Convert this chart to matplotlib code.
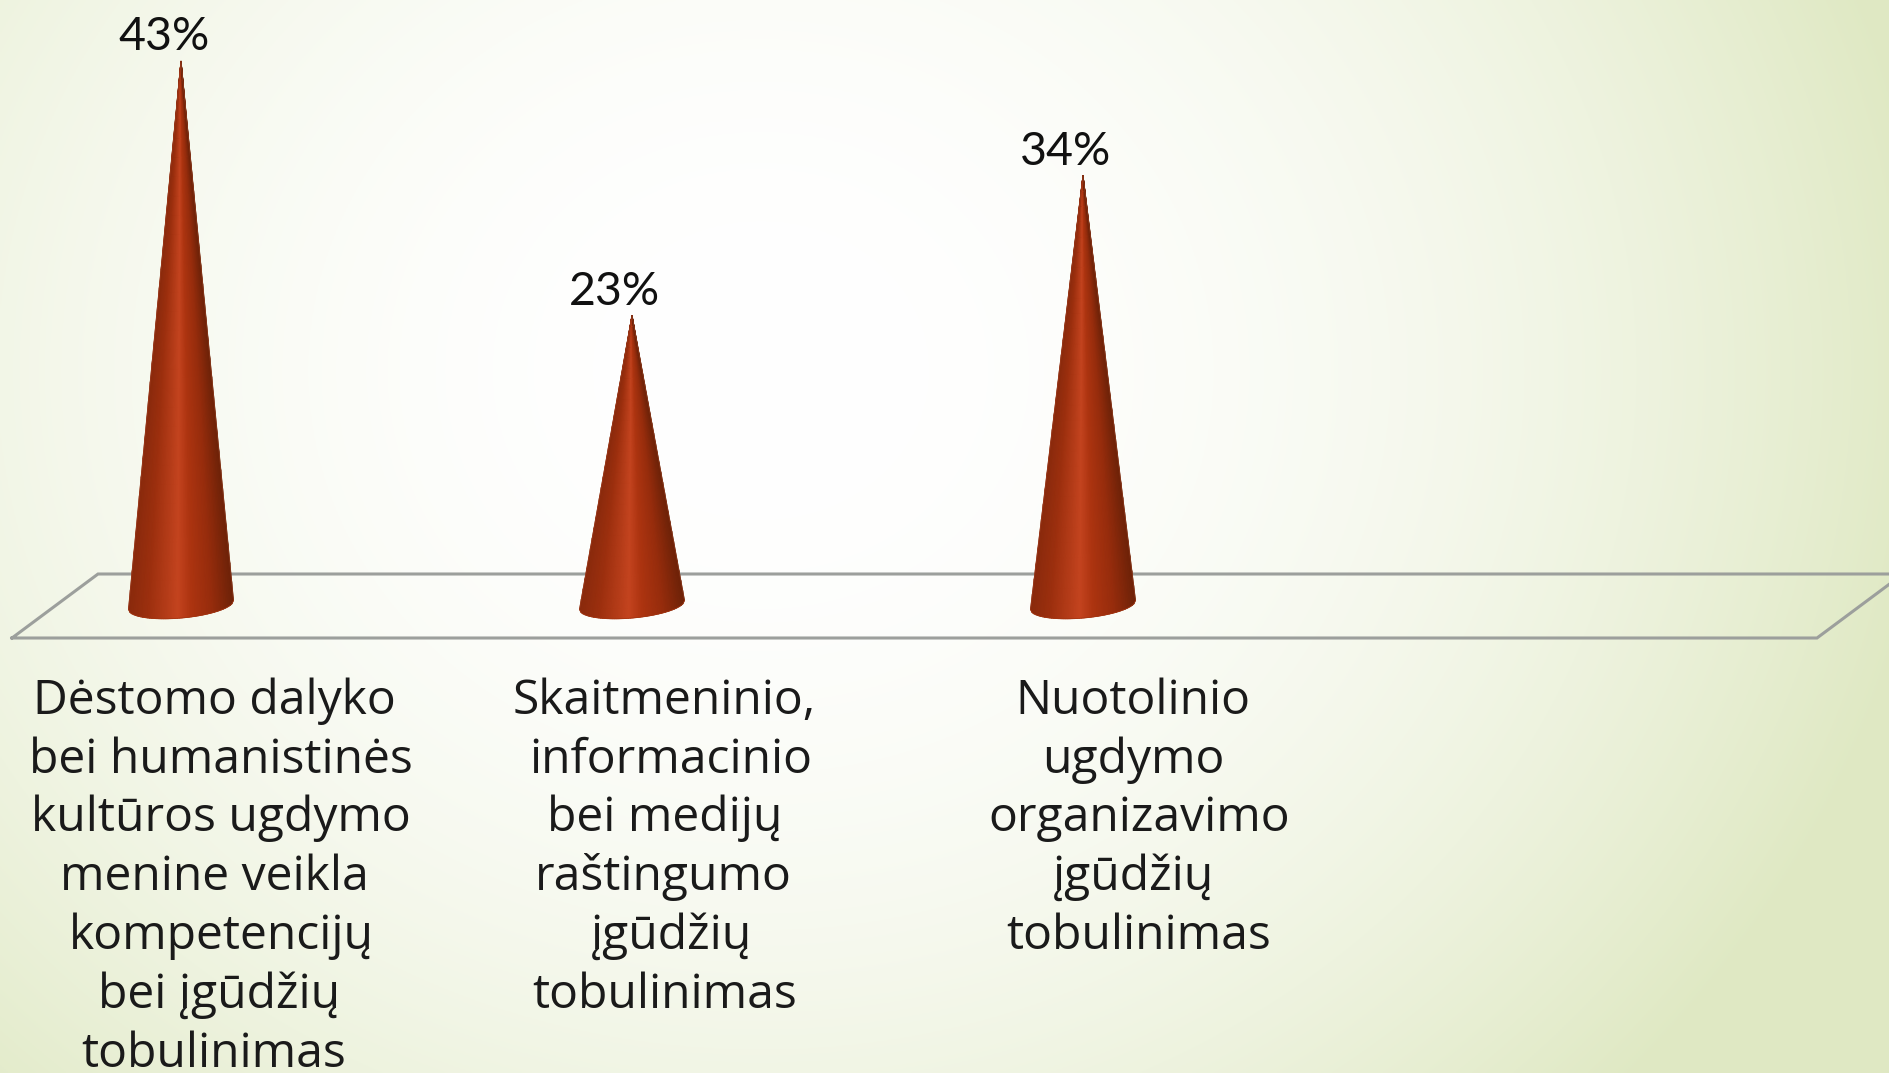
import numpy as np
import matplotlib
matplotlib.use('Agg')
import matplotlib.pyplot as plt
from matplotlib.colors import LinearSegmentedColormap

W, H = 1890, 1073

# values
values = [43, 23, 34]
value_labels = ['43%', '23%', '34%']
label_lines = [
    ['Dėstomo dalyko', 'bei humanistinės', 'kultūros ugdymo', 'menine veikla',
     'kompetencijų', 'bei įgūdžių', 'tobulinimas'],
    ['Skaitmeninio,', 'informacinio', 'bei medijų', 'raštingumo',
     'įgūdžių', 'tobulinimas'],
    ['Nuotolinio', 'ugdymo', 'organizavimo', 'įgūdžių', 'tobulinimas'],
]
# centre of each text line, in pixels
label_x = [
    [214, 221, 221, 214, 221, 219, 214],
    [664, 671, 665, 663, 671, 665],
    [1133, 1133, 1139, 1133, 1139],
]

plt.rcParams['font.family'] = ['Open Sans', 'DejaVu Sans']

fig = plt.figure(figsize=(W / 100, H / 100), dpi=100)

# background and floor are drawn in pixel coordinates
bg = fig.add_axes([0, 0, 1, 1])
bg.axis('off')

yy, xx = np.mgrid[0:H:2, 0:W:2]
dist = np.hypot((xx - 760) / 1180, (yy - 370) / 1050)
shade = np.clip(dist, 0, 1)[..., None] ** 2.1
white = np.array([1.0, 1.0, 1.0])
green = np.array([0.875, 0.912, 0.765])
bg.imshow(white * (1 - shade) + green * shade, extent=[0, W, H, 0], aspect='auto', zorder=0)
bg.set_xlim(0, W)
bg.set_ylim(H, 0)

floor_x = [12, 98, 1903, 1817, 12]
floor_y = [638, 574, 574, 638, 638]
bg.plot(floor_x, floor_y, color='#9c9f9c', lw=2.2, zorder=1, solid_joinstyle='miter')

for i, lines in enumerate(label_lines):
    for j, line in enumerate(lines):
        bg.text(label_x[i][j], 701 + j * 58.8, line, ha='center', va='center',
                fontsize=34.6, color='#1a1a1a', zorder=5)

# cones are drawn in data coordinates: category index and percent
px_per_cat = 451.0
px_per_pct = 12.72
x0_px, y0_px = 181.0, 608.0
ax = fig.add_axes([0, 0, 1, 1], facecolor='none')
ax.set_xlim(-x0_px / px_per_cat, (W - x0_px) / px_per_cat)
ax.set_ylim((y0_px - H) / px_per_pct, y0_px / px_per_pct)
ax.axis('off')

cone_cmap = LinearSegmentedColormap.from_list('cone', [
    (0.00, '#8a2a0c'), (0.18, '#9c2f0e'), (0.47, '#c4441f'), (0.60, '#ad3410'),
    (0.80, '#962c0c'), (1.00, '#6e2208')])

half_w = 52.5 / px_per_cat
u = np.linspace(-1, 1, 61)
t = np.linspace(0, 1, 30)
for i, v in enumerate(values):
    base = (4.5 * u - 13 * np.sqrt(1 - u ** 2) + 3) / px_per_pct
    X = np.outer(1 - t, u * half_w) + i
    Y = np.outer(1 - t, base) + v * t[:, None]
    C = np.tile((u + 1) / 2, (len(t), 1))
    ax.pcolormesh(X, Y, C, cmap=cone_cmap, shading='gouraud', vmin=0, vmax=1, zorder=3)
    ax.plot(X[:, 0], Y[:, 0], color='#9c3a1c', lw=0.5, zorder=4)
    ax.plot(X[:, -1], Y[:, -1], color='#8a3a1c', lw=0.5, zorder=4)
    ax.plot(X[0], Y[0], color='#a33410', lw=0.5, zorder=4)
    ax.annotate(value_labels[i], (i, v), xytext=(-12.5, 2), textcoords='offset points',
                ha='center', va='bottom', fontsize=33.5, color='#111111',
                family=['Lato', 'DejaVu Sans'])

fig.savefig('out.png', dpi=100)
